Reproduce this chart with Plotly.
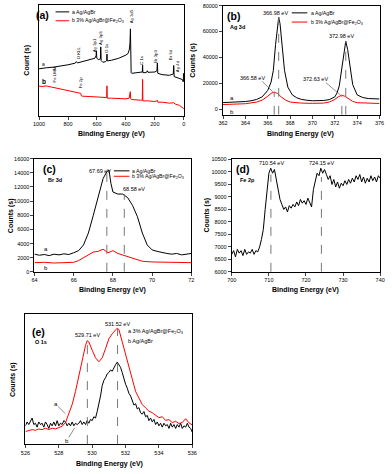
import plotly.graph_objects as go

W, H = 392, 474
FONT = "Liberation Sans"
BLACK = "#000000"
RED = "#ff0000"
GRAY = "#777777"

# ---------- (a) survey spectra (arbitrary units) ----------
survey_be_a = [1000, 980, 950, 900, 850, 800, 750, 742, 735, 700,
               650, 615, 606, 604, 601, 590, 576, 574, 571, 560,
               540, 533, 531, 529, 500, 450, 400, 385, 376, 372,
               369, 366, 364, 360, 330, 290, 287, 285, 283, 260,
               252, 248, 200, 186, 183, 180, 150, 100, 73, 70,
               67, 40, 10, 4, 2, 0]
survey_cnt_a = [42.3, 42.9, 43.2, 43.8, 44.7, 45.9, 47.4, 48.8, 47.6, 48.8,
                50.6, 51.8, 54.2, 58.6, 51.8, 50.6, 51.2, 62.1, 49.7, 48.2,
                48.8, 49.7, 55.6, 49.4, 50.0, 51.8, 54.7, 56.2, 60.1, 66.0,
                78.4, 42.3, 38.8, 38.2, 38.5, 38.8, 39.4, 45.9, 38.8, 38.8,
                40.5, 39.1, 39.4, 40.5, 47.6, 38.2, 37.0, 36.4, 37.6, 45.3,
                35.2, 34.0, 32.5, 30.5, 38.2, 31.1]
survey_be_b = [1000, 980, 950, 900, 850, 800, 750, 720, 712, 708,
               700, 650, 600, 560, 540, 533, 531, 529, 500, 450,
               400, 378, 373, 370, 367, 360, 300, 287, 285, 283,
               250, 200, 182, 180, 150, 100, 70, 60, 30, 10, 0]
survey_cnt_b = [26.6, 26.3, 26.8, 25.4, 24.6, 23.1, 21.6, 21.0, 20.1, 17.8,
                17.5, 17.2, 16.9, 16.6, 16.3, 16.3, 26.9, 15.7, 15.7, 15.4,
                15.1, 15.7, 20.7, 21.6, 15.1, 14.5, 13.9, 13.9, 32.8, 13.3,
                13.3, 12.7, 13.6, 12.1, 12.1, 11.2, 11.6, 10.4, 9.2, 7.4, 6.2]
survey_labels = ["O KLL", "Ag 3p1", "Ag 3p3", "O 1s", "Ag 3d5", "C 1s",
                 "Br 3p3", "Br 3d", "Ag 4d", "Fe LMM", "Fe 2p"]
survey_label_be = [728, 617, 573, 530, 362, 293, 195, 87, 47, 893, 714]
survey_label_cnt = [49, 55, 62, 54.5, 82, 44, 46, 48, 37.5, 27.7, 23.2]

# ---------- (b) Ag 3d ----------
ag_be_a = [362, 363, 364, 364.5, 365, 365.5, 366, 366.3, 366.5, 366.7,
           366.85, 366.98, 367.1, 367.3, 367.5, 367.8, 368.2, 368.6, 369, 369.5,
           370, 371, 371.5, 372, 372.2, 372.4, 372.6, 372.8, 372.98, 373.15,
           373.35, 373.6, 374, 374.5, 375, 376]
ag_cnt_a = [5100, 5400, 5900, 6500, 7500, 9500, 14500, 21000, 30000, 50000,
            64000, 71000, 66000, 46000, 30000, 17000, 11000, 8800, 7600, 6900,
            6500, 6700, 7400, 9500, 12500, 18000, 30000, 45000, 52500, 46000,
            32000, 19000, 11000, 9000, 8200, 7900]
ag_be_b = [362, 363, 364, 365, 365.5, 366, 366.3, 366.58, 366.9, 367.2,
           367.6, 368, 369, 370, 371, 371.5, 372, 372.3, 372.63, 372.9,
           373.2, 373.6, 374, 375, 376]
ag_cnt_b = [3600, 3800, 4200, 5500, 7000, 10000, 12200, 13200, 12000, 9500,
            7000, 5500, 4700, 4500, 4700, 5500, 7500, 9500, 10800, 10000,
            8000, 6000, 5000, 4600, 4400]
ag_peaks = [366.58, 366.98, 372.63, 372.98]
ag_peak_tops = [13200, 71000, 10800, 52500]

# ---------- (c) Br 3d ----------
br_be_a = [64, 64.25, 64.5, 64.75, 65, 65.25, 65.5, 65.75, 66, 66.25,
           66.5, 66.75, 67, 67.25, 67.5, 67.7, 67.8, 67.9, 68, 68.25,
           68.5, 68.75, 69, 69.25, 69.5, 69.75, 70, 70.25, 70.5, 70.75,
           71, 71.25, 71.5, 71.75, 72]
br_cnt_a = [2500, 2350, 2450, 2300, 2500, 2400, 2550, 2450, 2700, 3000,
            3800, 5500, 8000, 10800, 13200, 14200, 14400, 12500, 11300, 11000,
            11000, 10500, 9400, 7800, 5500, 3800, 3100, 2900, 2700, 2600,
            2500, 2600, 2400, 2450, 2600]
br_be_b = [64, 64.5, 65, 65.5, 66, 66.25, 66.5, 66.75, 67, 67.25,
           67.5, 67.75, 68, 68.25, 68.5, 68.75, 69, 69.25, 69.5, 70,
           70.5, 71, 71.5, 72]
br_cnt_b = [1300, 1350, 1250, 1300, 1350, 1600, 2000, 2500, 2800, 2900,
            3200, 2700, 3000, 2600, 2400, 2200, 1900, 1700, 1500, 1400,
            1350, 1300, 1350, 1300]
br_peaks = [67.69, 68.58]
br_peak_tops = [14300, 11000]

# ---------- (d) Fe 2p ----------
fe_be = [700, 700.5, 701, 701.5, 702, 702.5, 703, 703.5, 704, 704.5,
         705, 705.5, 706, 706.5, 707, 707.5, 708, 708.5, 709, 709.5,
         710, 710.5, 711, 711.5, 712, 712.5, 713, 713.5, 714, 714.5,
         715, 715.5, 716, 716.5, 717, 717.5, 718, 718.5, 719, 719.5,
         720, 720.5, 721, 721.5, 722, 722.5, 723, 723.5, 724, 724.5,
         725, 725.5, 726, 726.5, 727, 727.5, 728, 728.5, 729, 729.5,
         730, 730.5, 731, 731.5, 732, 732.5, 733, 733.5, 734, 734.5,
         735, 735.5, 736, 736.5, 737, 737.5, 738, 738.5, 739, 739.5, 740]
fe_cnt = [6700, 6850, 6600, 6900, 6750, 6850, 6650, 6900, 6700, 6800,
          6750, 6900, 6700, 6850, 6800, 7000, 7300, 7700, 8500, 9400,
          9950, 10150, 9950, 10100, 9700, 9300, 8900, 8700, 8500, 8600,
          8400, 8650, 8550, 8700, 8600, 8800, 8650, 8900, 8750, 8850,
          8700, 8950, 8800, 8600, 9300, 9700, 9950, 9850, 10150, 9950,
          10100, 9900, 9700, 9850, 9500, 9700, 9400, 9600, 9350, 9550,
          9450, 9650, 9500, 9700, 9550, 9750, 9600, 9850, 9700, 9900,
          9600, 9800, 9550, 9750, 9600, 9850, 9650, 9800, 9600, 9850, 9750]
fe_peaks = [710.54, 724.15]
fe_peak_tops = [9900, 9800]

# ---------- (e) O 1s (arbitrary units) ----------
o_be_a = [526.0, 526.2, 526.4, 526.6, 526.8, 527.0, 527.2, 527.4, 527.6, 527.8,
          528.0, 528.2, 528.4, 528.6, 528.8, 529.0, 529.2, 529.4, 529.6, 529.7,
          529.8, 530.0, 530.2, 530.4, 530.6, 530.8, 531.0, 531.2, 531.4, 531.5,
          531.6, 531.8, 532.0, 532.2, 532.4, 532.6, 532.8, 533.0, 533.2, 533.4,
          533.6, 533.8, 534.0, 534.2, 534.4, 534.6, 534.8, 535.0, 535.2, 535.4,
          535.6, 535.8, 536.0]
o_cnt_a = [9.6, 10.1, 11.1, 10.6, 11.6, 11.1, 12.2, 11.1, 12.2, 11.6,
           12.7, 13.7, 16.5, 22.8, 30.4, 40.5, 51.9, 65.8, 75.9, 79.5,
           78.5, 72.2, 66.3, 63.3, 66.3, 73.4, 81.0, 84.8, 88.1, 89.1,
           88.1, 78.5, 68.4, 58.2, 48.1, 40.5, 35.4, 30.4, 27.8, 25.3,
           24.1, 22.3, 20.3, 21.0, 18.2, 18.8, 16.5, 17.5, 15.8, 16.6,
           19.5, 16.3, 14.7]
o_be_b = [526.0, 526.1, 526.2, 526.3, 526.4, 526.5, 526.6, 526.7, 526.8, 526.9,
          527.0, 527.1, 527.2, 527.3, 527.4, 527.5, 527.6, 527.7, 527.8, 527.9,
          528.0, 528.1, 528.2, 528.3, 528.4, 528.5, 528.6, 528.7, 528.8, 528.9,
          529.0, 529.1, 529.2, 529.3, 529.4, 529.5, 529.6, 529.7, 529.8, 529.9,
          530.0, 530.1, 530.2, 530.3, 530.4, 530.5, 530.6, 530.7, 530.8, 530.9,
          531.0, 531.1, 531.2, 531.3, 531.4, 531.5, 531.6, 531.7, 531.8, 531.9,
          532.0, 532.1, 532.2, 532.3, 532.4, 532.5, 532.6, 532.7, 532.8, 532.9,
          533.0, 533.1, 533.2, 533.3, 533.4, 533.5, 533.6, 533.7, 533.8, 533.9,
          534.0, 534.1, 534.2, 534.3, 534.4, 534.5, 534.6, 534.7, 534.8, 534.9,
          535.0, 535.1, 535.2, 535.3, 535.4, 535.5, 535.6, 535.7, 535.8, 535.9, 536.0]
o_cnt_b = [14, 17, 15, 18, 20, 15, 16, 13, 17, 15,
           16, 13, 17, 15, 12, 16, 14, 17, 14, 18,
           14, 16, 15, 18, 17, 14, 16, 14, 17, 14,
           16, 15, 16, 18, 15, 17, 15, 18, 16, 19,
           18, 21, 20, 25, 30, 37, 45, 49, 51, 54,
           55, 57, 56, 59, 61, 63, 61, 59, 55, 50,
           46, 43, 39, 37, 33, 30, 31, 27, 28, 24,
           23, 25, 21, 22, 18, 20, 17, 19, 15, 17,
           14, 16, 13, 16, 14, 15, 12, 16, 13, 15,
           12, 15, 13, 16, 12, 14, 13, 16, 13, 12, 9]
o_peaks = [529.71, 531.52]
o_peak_tops = [79.5, 89.1]


def px(x):
    return x / W


def py(y):
    return 1 - y / H


fig = go.Figure()

panels = [
    ("x", "y", survey_be_a, survey_cnt_a, survey_be_b, survey_cnt_b),
    ("x2", "y2", ag_be_a, ag_cnt_a, ag_be_b, ag_cnt_b),
    ("x3", "y3", br_be_a, br_cnt_a, br_be_b, br_cnt_b),
]
for xa, ya, bx, by, rx, ry in panels:
    fig.add_trace(go.Scatter(x=bx, y=by, xaxis=xa, yaxis=ya, mode="lines",
                             line=dict(color=BLACK, width=1)))
    fig.add_trace(go.Scatter(x=rx, y=ry, xaxis=xa, yaxis=ya, mode="lines",
                             line=dict(color=RED, width=1)))

fig.add_trace(go.Scatter(x=fe_be, y=fe_cnt, xaxis="x4", yaxis="y4", mode="lines",
                         line=dict(color=BLACK, width=1)))
fig.add_trace(go.Scatter(x=o_be_b, y=o_cnt_b, xaxis="x5", yaxis="y5", mode="lines",
                         line=dict(color=BLACK, width=1)))
fig.add_trace(go.Scatter(x=o_be_a, y=o_cnt_a, xaxis="x5", yaxis="y5", mode="lines",
                         line=dict(color=RED, width=1)))

# dashed peak markers
for xa, ya, peaks, tops, base in [("x2", "y2", ag_peaks, ag_peak_tops, -4400),
                                  ("x3", "y3", br_peaks, br_peak_tops, 0),
                                  ("x4", "y4", fe_peaks, fe_peak_tops, 6000),
                                  ("x5", "y5", o_peaks, o_peak_tops, 0)]:
    for p, t in zip(peaks, tops):
        fig.add_trace(go.Scatter(x=[p, p], y=[base, t], xaxis=xa, yaxis=ya,
                                 mode="lines",
                                 line=dict(color=GRAY, width=1, dash="dash")))

axis_common = dict(showline=True, mirror=True, linecolor="black", linewidth=1,
                   ticks="outside", ticklen=3, tickwidth=0.8, showgrid=False,
                   zeroline=False, ticklabeloverflow="allow", tickformat="d",
                   tickfont=dict(family=FONT, size=5.5, color="black"))

fig.update_layout(
    width=W, height=H, margin=dict(l=0, r=0, t=0, b=0),
    paper_bgcolor="white", plot_bgcolor="white", showlegend=False,
    font=dict(family=FONT, color="black"),
    xaxis=dict(domain=[px(34), px(183)], range=[1000, 0], anchor="y",
               tickvals=[1000, 800, 600, 400, 200, 0], **axis_common),
    yaxis=dict(domain=[py(114), py(2)], range=[0, 100], anchor="x",
               **{**axis_common, "ticks": "", "showticklabels": False}),
    xaxis2=dict(domain=[px(223.3), px(384.3)], range=[362, 376], anchor="y2",
                dtick=2, **axis_common),
    yaxis2=dict(domain=[py(113.3), py(2.7)], range=[-4400, 80000], anchor="x2",
                tickvals=[0, 20000, 40000, 60000, 80000], **axis_common),
    xaxis3=dict(domain=[px(29.3), px(190.7)], range=[64, 72], anchor="y3",
                dtick=2, **axis_common),
    yaxis3=dict(domain=[py(272.3), py(157.7)], range=[0, 16000], anchor="x3",
                dtick=2000, **axis_common),
    xaxis4=dict(domain=[px(232.3), px(385)], range=[700, 740], anchor="y4",
                dtick=10, **axis_common),
    yaxis4=dict(domain=[py(272.3), py(158.5)], range=[6000, 10500], anchor="x4",
                dtick=500, **axis_common),
    xaxis5=dict(domain=[px(20), px(191.7)], range=[526, 536], anchor="y5",
                dtick=2, **axis_common),
    yaxis5=dict(domain=[py(446.7), py(315)], range=[0, 100], anchor="x5",
                **{**axis_common, "ticks": "", "showticklabels": False}),
)

ann = []
shapes = []


def text(x, y, s, xref, yref, size=5.5, xanchor="center", yanchor="middle",
         angle=0, bold=False):
    ann.append(dict(x=x, y=y, xref=xref, yref=yref, text=f"<b>{s}</b>" if bold else s,
                    showarrow=False, xanchor=xanchor, yanchor=yanchor,
                    textangle=angle, font=dict(family=FONT, size=size, color="black")))


def leader(x0, y0, x1, y1, xref, yref):
    shapes.append(dict(type="line", xref=xref, yref=yref, x0=x0, y0=y0, x1=x1, y1=y1,
                       line=dict(color="#444", width=0.6)))


# axis titles
for cx, cy in [(108.5, 133), (303.5, 133), (110, 291), (308.5, 291), (106, 467)]:
    text(px(cx), py(cy), "Binding Energy (eV)", "paper", "paper", size=7, bold=True)
for cx, cy, s in [(22, 58, "Count (s)"), (193, 58, "Counts (s)"),
                  (5, 215, "Counts (s)"), (207, 215, "Counts (s)"),
                  (7, 381, "Counts (s)")]:
    text(px(cx), py(cy), s, "paper", "paper", size=7, angle=-90, bold=True)

# (a)
text(px(38), py(12), "(a)", "paper", "paper", size=10.5, bold=True)
for s, bx, by in zip(survey_labels, survey_label_be, survey_label_cnt):
    text(bx, by, s, "x", "y", size=4.3, angle=-90, yanchor="bottom")
text(966, 46.4, "a", "x", "y", size=5)
text(966, 30.4, "b", "x", "y", size=6.5, bold=True)

# (b)
text(px(225.5), py(12.7), "(b)", "paper", "paper", size=10.5, xanchor="left", bold=True)
text(px(228), py(24), "Ag 3d", "paper", "paper", size=5.5, xanchor="left", bold=True)
text(366.7, 74500, "366.98 eV", "x2", "y2")
text(372.6, 56500, "372.98 eV", "x2", "y2")
text(364.6, 24300, "366.58 eV", "x2", "y2")
text(370.3, 23300, "372.63 eV", "x2", "y2")
leader(365.5, 21500, 366.45, 13500, "x2", "y2")
leader(371.2, 20500, 372.5, 11000, "x2", "y2")
text(362.8, 8800, "a", "x2", "y2", size=6)
text(362.8, -2000, "b", "x2", "y2", size=6)

# (c)
text(px(36.5), py(168.3), "(c)", "paper", "paper", size=10.5, xanchor="left", bold=True)
text(px(41), py(179), "Br 3d", "paper", "paper", size=5.5, xanchor="left", bold=True)
text(67.34, 14200, "67.69 eV", "x3", "y3")
text(69.08, 11750, "68.58 eV", "x3", "y3")
text(64.6, 3300, "a", "x3", "y3", size=6)
text(64.6, 600, "b", "x3", "y3", size=6)

# (d)
text(px(235), py(168.3), "(d)", "paper", "paper", size=10.5, xanchor="left", bold=True)
text(px(239), py(179), "Fe 2p", "paper", "paper", size=5.5, xanchor="left", bold=True)
text(710.8, 10360, "710.54 eV", "x4", "y4")
text(724.3, 10360, "724.15 eV", "x4", "y4")

# (e)
text(px(25), py(333), "(e)", "paper", "paper", size=10.5, xanchor="left", bold=True)
text(px(28), py(343), "O 1s", "paper", "paper", size=5.5, xanchor="left", bold=True)
text(529.69, 83.5, "529.71 eV", "x5", "y5")
text(531.53, 92, "531.52 eV", "x5", "y5")
text(px(123), py(332.7), "a 3% Ag/AgBr@Fe<sub>2</sub>O<sub>3</sub>", "paper", "paper",
     size=5.5, xanchor="left")
text(px(123), py(342.7), "b Ag/AgBr", "paper", "paper", size=5.5, xanchor="left")
text(527.85, 31, "a", "x5", "y5", size=6)
leader(527.95, 29, 528.4, 23.3, "x5", "y5")
text(528.5, 2.6, "b", "x5", "y5", size=6)
leader(528.6, 5, 528.95, 12.5, "x5", "y5")

# legends drawn as swatches + labels
for x0, x1, yb, yr, tx in [(51, 65, 9, 18, 66), (294, 310, 10, 19.3, 312),
                           (111, 127, 170, 175.5, 128)]:
    shapes.append(dict(type="line", xref="paper", yref="paper", x0=px(x0), x1=px(x1),
                       y0=py(yb), y1=py(yb), line=dict(color=BLACK, width=1)))
    shapes.append(dict(type="line", xref="paper", yref="paper", x0=px(x0), x1=px(x1),
                       y0=py(yr), y1=py(yr), line=dict(color=RED, width=1)))
    text(px(tx), py(yb), "a Ag/AgBr", "paper", "paper", size=5.2, xanchor="left")
    text(px(tx), py(yr), "b 3% Ag/AgBr@Fe<sub>2</sub>O<sub>3</sub>", "paper", "paper",
         size=5.2, xanchor="left")

fig.update_layout(annotations=ann, shapes=shapes)
# drop the default page margin so the figure fills the window exactly
fig.write_html("out.html", config={"displayModeBar": False},
               post_script="document.body.style.margin='0';")
